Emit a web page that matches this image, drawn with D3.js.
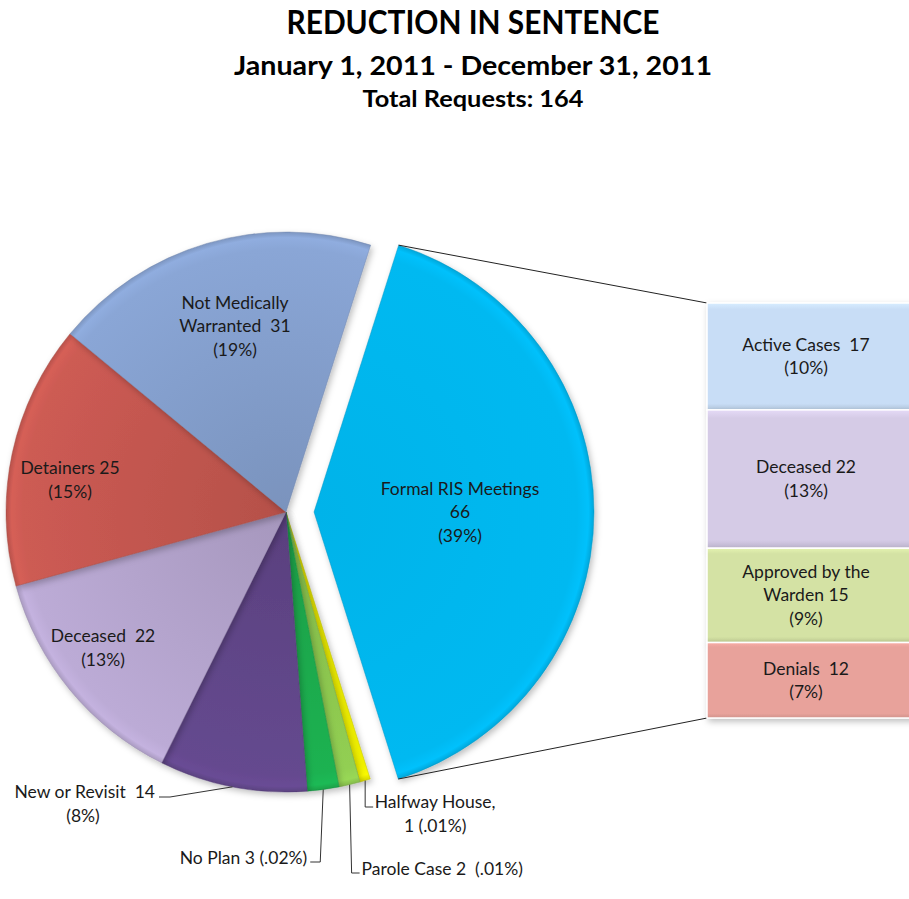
<!DOCTYPE html>
<html>
<head>
<meta charset="utf-8">
<script src="https://cdn.jsdelivr.net/npm/d3@7"></script>
<style>
  html, body { margin: 0; padding: 0; background: #ffffff; }
  svg { display: block; }
  text { font-family: Lato, "Open Sans", "Liberation Sans", sans-serif; white-space: pre; }
</style>
</head>
<body>
<div id="chart"></div>
<script>
// ---------------- DATA ----------------
const titleLines = ["REDUCTION IN SENTENCE", "January 1, 2011 - December 31, 2011", "Total Requests: 164"];

const pieCategories = ["Formal RIS Meetings", "Halfway House", "Parole Case", "No Plan", "New or Revisit", "Deceased", "Detainers", "Not Medically Warranted"];
const pieValues = [66, 1, 2, 3, 14, 22, 25, 31];
const piePercents = ["39%", ".01%", ".01%", ".02%", "8%", "13%", "15%", "19%"];
const pieLabelLines = [
  ["Formal RIS Meetings", "66", "(39%)"],
  ["Halfway House,", "1 (.01%)"],
  ["Parole Case 2  (.01%)"],
  ["No Plan 3 (.02%)"],
  ["New or Revisit  14", "(8%)"],
  ["Deceased  22", "(13%)"],
  ["Detainers 25", "(15%)"],
  ["Not Medically", "Warranted  31", "(19%)"]
];
const pieColors = ["#00b9f1", "#f0f000", "#92cf52", "#1db251", "#65498f", "#bcabd6", "#cd5b53", "#8aa6d6"];

const barCategories = ["Active Cases", "Deceased", "Approved by the Warden", "Denials"];
const barValues = [17, 22, 15, 12];
const barPercents = ["10%", "13%", "9%", "7%"];
const barLabelLines = [
  ["Active Cases  17", "(10%)"],
  ["Deceased 22", "(13%)"],
  ["Approved by the", "Warden 15", "(9%)"],
  ["Denials  12", "(7%)"]
];
const barColors = ["#c8ddf6", "#d5cbe6", "#d4e2a4", "#e8a29b"];

// ---------------- LAYOUT ----------------
const W = 909, H = 899;
const cx = 286, cy = 512, R = 280, explode = 28;
const startDeg = 17.6;
const barX = 707, barW = 215, barTop = 303, barBottom = 718;
const fs = 17.5, lh = 23.5;

const svg = d3.select("#chart").append("svg")
  .attr("width", W).attr("height", H).attr("viewBox", [0, 0, W, H]);

const defs = svg.append("defs");
const sh = defs.append("filter").attr("id", "shadow")
  .attr("x", "-10%").attr("y", "-10%").attr("width", "130%").attr("height", "130%");
sh.append("feDropShadow").attr("dx", 2).attr("dy", 3).attr("stdDeviation", 3)
  .attr("flood-color", "#000").attr("flood-opacity", 0.25);

// Titles
const titleSpecs = [
  { size: 32, y: 34, len: 373 },
  { size: 27, y: 75, len: 478 },
  { size: 22, y: 107, len: 221 }
];
svg.append("g").selectAll("text").data(titleLines).join("text")
  .attr("x", 473).attr("y", (d, i) => titleSpecs[i].y)
  .attr("text-anchor", "middle")
  .attr("font-weight", 700)
  .attr("font-size", (d, i) => titleSpecs[i].size)
  .attr("textLength", (d, i) => titleSpecs[i].len)
  .attr("lengthAdjust", "spacingAndGlyphs")
  .attr("fill", "#000")
  .text(d => d);

// Pie
const a0 = startDeg * Math.PI / 180;
const pie = d3.pie().sort(null).value(d => d).startAngle(a0).endAngle(a0 + 2 * Math.PI);
const arcs = pie(pieValues);
const arc = d3.arc().innerRadius(0).outerRadius(R);

function offsetOf(d, i) {
  const mid = (d.startAngle + d.endAngle) / 2;
  const off = i === 0 ? explode : 0;
  return [Math.sin(mid) * off, -Math.cos(mid) * off];
}

arcs.forEach((d, i) => {
  const base = d3.color(pieColors[i]);
  const g = defs.append("radialGradient").attr("id", "pg" + i)
    .attr("gradientUnits", "userSpaceOnUse").attr("cx", 0).attr("cy", 0).attr("r", R);
  g.append("stop").attr("offset", 0).attr("stop-color", base.darker(i === 0 ? 0.1 : 0.35));
  g.append("stop").attr("offset", 0.6).attr("stop-color", base.darker(i === 0 ? 0.03 : 0.12));
  g.append("stop").attr("offset", 0.94).attr("stop-color", base);
  g.append("stop").attr("offset", 0.98).attr("stop-color", base.brighter(0.12));
  g.append("stop").attr("offset", 1).attr("stop-color", base.darker(0.3));
});

const pieG = svg.append("g").attr("transform", `translate(${cx},${cy})`);
pieG.selectAll("g.slice").data(arcs).join("g")
  .attr("class", "slice")
  .attr("transform", (d, i) => { const o = offsetOf(d, i); return `translate(${o[0]},${o[1]})`; })
  .append("path")
  .attr("d", arc)
  .attr("fill", (d, i) => `url(#pg${i})`)
  .attr("stroke", (d, i) => d3.color(pieColors[i]).darker(0.7))
  .attr("stroke-width", 0.8)
  .attr("stroke-opacity", 0.55)
  .attr("filter", "url(#shadow)");

// Bar (breakdown of Formal RIS Meetings)
const barTotal = d3.sum(barValues);
const yBar = d3.scaleLinear().domain([0, barTotal]).range([barTop, barBottom]);
const cum = d3.cumsum(barValues);
const barData = barValues.map((v, i) => ({ v, i, y0: cum[i] - v, y1: cum[i] }));

barData.forEach(d => {
  const base = d3.color(barColors[d.i]);
  const g = defs.append("linearGradient").attr("id", "bg" + d.i)
    .attr("x1", 0).attr("y1", 0).attr("x2", 0).attr("y2", 1);
  g.append("stop").attr("offset", 0).attr("stop-color", base.brighter(0.2));
  g.append("stop").attr("offset", 0.06).attr("stop-color", base);
  g.append("stop").attr("offset", 0.94).attr("stop-color", base);
  g.append("stop").attr("offset", 1).attr("stop-color", base.darker(0.3));
});

// Connector lines from the exploded slice to the bar
const f = arcs[0];
const fo = offsetOf(f, 0);
const topCorner = [cx + fo[0] + R * Math.sin(f.startAngle), cy + fo[1] - R * Math.cos(f.startAngle)];
const botCorner = [cx + fo[0] + R * Math.sin(f.endAngle), cy + fo[1] - R * Math.cos(f.endAngle)];
svg.append("line").attr("x1", topCorner[0]).attr("y1", topCorner[1])
  .attr("x2", barX).attr("y2", yBar(0)).attr("stroke", "#222").attr("stroke-width", 1);
svg.append("line").attr("x1", botCorner[0]).attr("y1", botCorner[1])
  .attr("x2", barX).attr("y2", yBar(barTotal)).attr("stroke", "#222").attr("stroke-width", 1);

const barG = svg.append("g");
barG.selectAll("rect").data(barData).join("rect")
  .attr("x", barX).attr("width", barW)
  .attr("y", d => yBar(d.y0)).attr("height", d => yBar(d.y1) - yBar(d.y0))
  .attr("fill", d => `url(#bg${d.i})`)
  .attr("stroke", "#ffffff").attr("stroke-width", 1.5)
  .attr("filter", "url(#shadow)");

// Bar labels
barData.forEach(d => {
  const lines = barLabelLines[d.i];
  const mid = (yBar(d.y0) + yBar(d.y1)) / 2;
  const y0 = mid - (lines.length - 1) * lh / 2 + 6;
  barG.append("text").attr("text-anchor", "middle").attr("font-size", fs).attr("fill", "#1a1a1a")
    .selectAll("tspan").data(lines).join("tspan")
    .attr("x", 806).attr("y", (t, k) => y0 + k * lh).text(t => t);
});

// Pie labels inside slices (label positions are layout only)
const insidePos = { 0: [460, 512], 5: [103, 648], 6: [70, 480], 7: [235, 326] };
Object.keys(insidePos).forEach(k => {
  const lines = pieLabelLines[k];
  const [x, ym] = insidePos[k];
  const y0 = ym - (lines.length - 1) * lh / 2 + 6;
  svg.append("text").attr("text-anchor", "middle").attr("font-size", fs).attr("fill", "#1a1a1a")
    .selectAll("tspan").data(lines).join("tspan")
    .attr("x", x).attr("y", (t, j) => y0 + j * lh).text(t => t);
});

// Leader-line labels for the small slices
function anchorOf(i) {
  const d = arcs[i];
  const mid = (d.startAngle + d.endAngle) / 2;
  return [cx + R * Math.sin(mid), cy - R * Math.cos(mid)];
}
const leaderG = svg.append("g").attr("fill", "none").attr("stroke", "#333").attr("stroke-width", 1);
const lab = svg.append("g").attr("font-size", fs).attr("fill", "#1a1a1a");

// New or Revisit (index 4)
{
  const a = anchorOf(4);
  leaderG.append("path").attr("d", d3.line()([a, [170, 797], [159, 797]]));
  lab.append("text").attr("x", 155).attr("y", 798).attr("text-anchor", "end").text(pieLabelLines[4][0]);
  lab.append("text").attr("x", 83).attr("y", 822).attr("text-anchor", "middle").text(pieLabelLines[4][1]);
}
// No Plan (index 3)
{
  const a = anchorOf(3);
  leaderG.append("path").attr("d", d3.line()([a, [a[0] - 3, 862], [a[0] - 13, 862]]));
  lab.append("text").attr("x", a[0] - 16).attr("y", 864).attr("text-anchor", "end").text(pieLabelLines[3][0]);
}
// Parole Case (index 2)
{
  const a = anchorOf(2);
  leaderG.append("path").attr("d", d3.line()([a, [a[0] + 2, 873], [a[0] + 10, 873]]));
  lab.append("text").attr("x", a[0] + 12).attr("y", 875).attr("text-anchor", "start").text(pieLabelLines[2][0]);
}
// Halfway House (index 1)
{
  const a = anchorOf(1);
  leaderG.append("path").attr("d", d3.line()([a, [a[0], 807], [a[0] + 8, 807]]));
  lab.append("text").attr("x", a[0] + 70).attr("y", 808).attr("text-anchor", "middle").text(pieLabelLines[1][0]);
  lab.append("text").attr("x", a[0] + 70).attr("y", 832).attr("text-anchor", "middle").text(pieLabelLines[1][1]);
}
</script>
</body>
</html>
